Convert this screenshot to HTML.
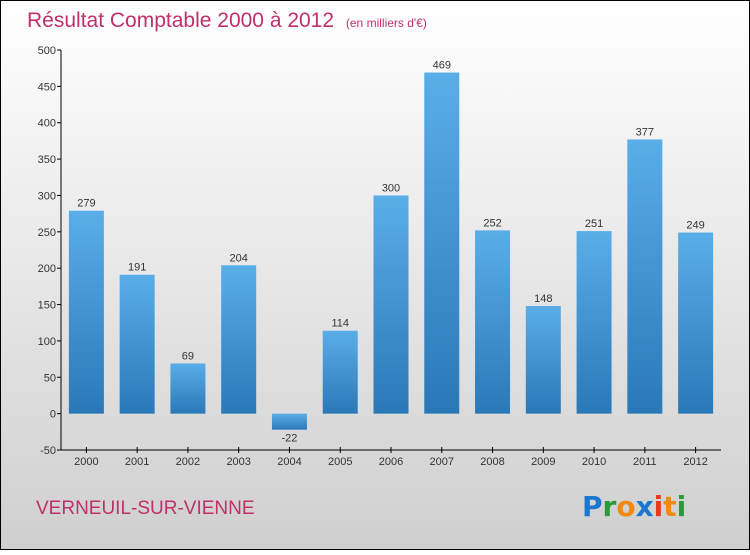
<!DOCTYPE html>
<html><head><meta charset="utf-8"><style>
html,body{margin:0;padding:0}
body{width:750px;height:550px;overflow:hidden;font-family:"Liberation Sans",sans-serif}
</style></head><body>
<svg id="chart" width="750" height="550" xmlns="http://www.w3.org/2000/svg">
<defs>
<linearGradient id="bg" x1="0" y1="0" x2="0" y2="1"><stop offset="0" stop-color="#ffffff"/><stop offset="1" stop-color="#cfcfcf"/></linearGradient>
<linearGradient id="bar" x1="0" y1="0" x2="0" y2="1"><stop offset="0" stop-color="#5aaee8"/><stop offset="1" stop-color="#2a78b8"/></linearGradient>
</defs>
<rect x="0.5" y="0.5" width="749" height="549" fill="url(#bg)" stroke="#000"/>
<text x="27" y="27" font-size="21" fill="#c0306a">Résultat Comptable 2000 à 2012 <tspan font-size="12" dx="6">(en milliers d'€)</tspan></text>
<g id="plot"></g>
<text x="36" y="514" font-size="19" fill="#c0306a">VERNEUIL-SUR-VIENNE</text>
<g font-size="28" font-weight="bold" font-family="'DejaVu Sans',sans-serif">
<text x="582" y="516"><tspan fill="#1a78d0">P</tspan><tspan fill="#2a9a3a">r</tspan><tspan fill="#f08a10">o</tspan><tspan fill="#1a78d0">x</tspan><tspan fill="#e83a20">i</tspan><tspan fill="#f08a10">t</tspan><tspan fill="#2a9a3a">i</tspan></text>
</g>
</svg>
<script>
const categories=["2000","2001","2002","2003","2004","2005","2006","2007","2008","2009","2010","2011","2012"];
const values=[279,191,69,204,-22,114,300,469,252,148,251,377,249];
const yTicks=[-50,0,50,100,150,200,250,300,350,400,450,500];
const NS="http://www.w3.org/2000/svg";
const g=document.getElementById('plot');
const x0=61,x1=721,yTop=50,yBot=450,vMin=-50,vMax=500;
const y=v=>yBot-(v-vMin)/(vMax-vMin)*(yBot-yTop);
const step=(x1-x0)/categories.length;
const xc=i=>x0+step*(i+0.5);
function mk(t,a){const e=document.createElementNS(NS,t);for(const k in a)e.setAttribute(k,a[k]);g.appendChild(e);return e;}
values.forEach((v,i)=>{
 const top=Math.min(y(v),y(0)),h=Math.abs(y(v)-y(0));
 const r=mk('rect',{x:xc(i)-17.5,y:top,width:35,height:h,fill:'url(#bar)'});
 
 
 const t=mk('text',{x:xc(i),y:v>=0?y(v)-4:y(v)+12,'font-size':11,'text-anchor':'middle',fill:'#333'});
 t.textContent=v;
 
 
 const tk=mk('line',{x1:xc(i),x2:xc(i),y1:yBot-3,y2:yBot+3,stroke:'#000'});
 
 
 const xl=mk('text',{x:xc(i),y:yBot+15,'font-size':11,'text-anchor':'middle',fill:'#333'});
 xl.textContent=categories[i];
 
 
});
yTicks.forEach(v=>{
 const tk=mk('line',{x1:x0-4,x2:x0,y1:y(v),y2:y(v),stroke:'#000'});
 
 
 const l=mk('text',{x:x0-5,y:y(v)+4,'font-size':11,'text-anchor':'end',fill:'#333'});
 l.textContent=v;
 
 
});
const ya=mk('line',{x1:x0,x2:x0,y1:yTop,y2:yBot,stroke:'#000'});


const xa=mk('line',{x1:x0,x2:x1,y1:yBot,y2:yBot,stroke:'#000'});


</script>
</body></html>
